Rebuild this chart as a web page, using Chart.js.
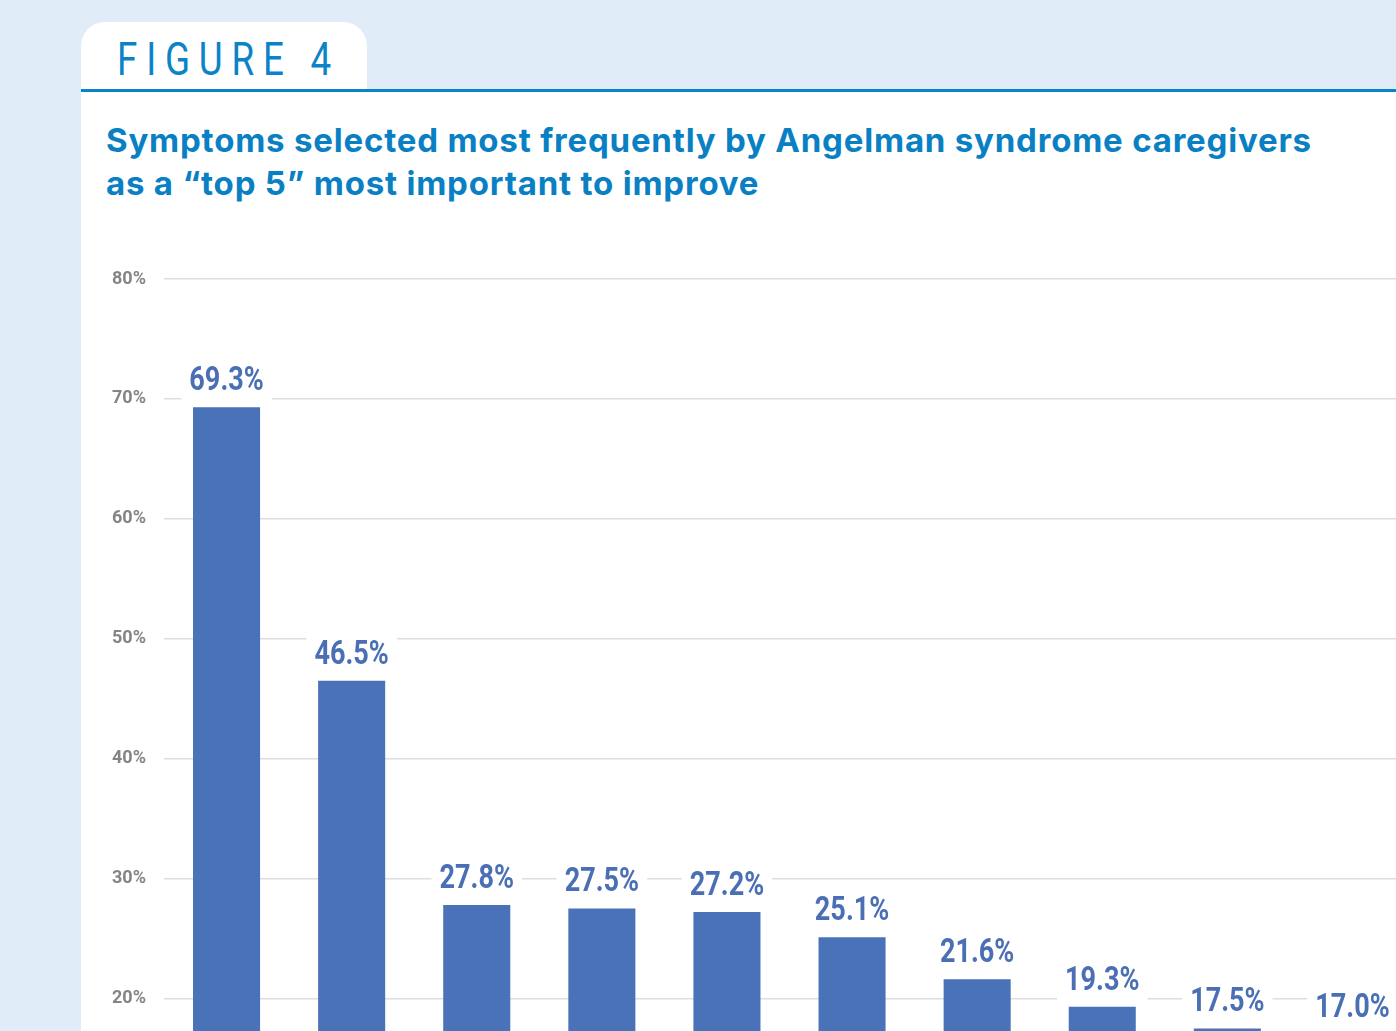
<!DOCTYPE html>
<html>
<head>
<meta charset="utf-8">
<script src="https://cdn.jsdelivr.net/npm/chart.js@4.4.1/dist/chart.umd.min.js"></script>
<style>
  html, body { margin: 0; padding: 0; }
  body {
    width: 1396px; height: 1031px; overflow: hidden;
    background: #e0ecf8; position: relative;
    font-family: Inter, "Noto Sans", sans-serif;
  }
  #panel { position: absolute; left: 81px; top: 92px; right: 0; bottom: 0; background: #fff; }
  #tab {
    position: absolute; left: 81px; top: 22px; width: 286px; height: 70px;
    background: #fff; border-radius: 24px 24px 0 0;
  }
  #tab span {
    position: absolute; left: 36px; top: 10px; white-space: nowrap;
    font-family: Roboto, sans-serif; font-size: 46px; letter-spacing: 11px;
    color: #0a84c8; transform: scaleX(0.8); transform-origin: 0 0;
  }
  #rule { position: absolute; left: 81px; right: 0; top: 89px; height: 3px; background: #0a84c8; }
  #title {
    position: absolute; left: 106px; top: 119px; margin: 0; white-space: nowrap;
    font-size: 33px; font-weight: 700; line-height: 43px; letter-spacing: 0.8px; color: #0a80c4;
  }
  #wrap { position: absolute; left: 1px; top: 250px; width: 1450px; height: 1017px; }
</style>
</head>
<body>
<div id="panel"></div>
<div id="tab"><span>FIGURE 4</span></div>
<div id="rule"></div>
<h1 id="title">Symptoms selected most frequently by Angelman syndrome caregivers<br>as a “top 5” most important to improve</h1>
<div id="wrap"><canvas id="chart"></canvas></div>
<script>
// category names sit below the visible crop
const categories = ['1', '2', '3', '4', '5', '6', '7', '8', '9', '10'];
const values = [69.3, 46.5, 27.8, 27.5, 27.2, 25.1, 21.6, 19.3, 17.5, 17.0];
const yTicks = [0, 10, 20, 30, 40, 50, 60, 70, 80];

// condensed look: Roboto squeezed horizontally
const valueLabels = {
  id: 'valueLabels',
  afterDatasetsDraw(chart) {
    const ctx = chart.ctx;
    const meta = chart.getDatasetMeta(0);
    const sx = 0.82;
    ctx.save();
    ctx.font = 'bold 33px Roboto, sans-serif';
    ctx.textAlign = 'center';
    ctx.textBaseline = 'alphabetic';
    meta.data.forEach((bar, i) => {
      const txt = values[i].toFixed(1) + '%';
      const w = ctx.measureText(txt).width * sx;
      ctx.fillStyle = '#fff';
      ctx.fillRect(bar.x - w / 2 - 8, bar.y - 48, w + 16, 46);
      ctx.save();
      ctx.translate(bar.x, bar.y - 17);
      ctx.scale(sx, 1);
      ctx.fillStyle = '#4a6fb5';
      ctx.fillText(txt, 0, 0);
      ctx.restore();
    });
    ctx.restore();
  }
};

new Chart(document.getElementById('chart'), {
  type: 'bar',
  data: {
    labels: categories,
    datasets: [{
      data: values,
      backgroundColor: '#4a72b8',
      categoryPercentage: 1,
      barPercentage: 0.536
    }]
  },
  options: {
    responsive: true,
    maintainAspectRatio: false,
    animation: false,
    layout: { padding: { top: 29, bottom: 13, left: 0, right: 36 } },
    plugins: { legend: { display: false }, tooltip: { enabled: false } },
    scales: {
      x: { display: false },
      y: {
        min: 0, max: 80,
        afterFit: s => { s.width = 163; },
        afterBuildTicks: s => { s.ticks = yTicks.map(v => ({ value: v })); },
        border: { display: false },
        grid: { color: '#dedede', lineWidth: 1.5, drawTicks: false },
        ticks: {
          padding: 18,
          color: '#858585',
          font: { family: 'Roboto, sans-serif', size: 18, weight: 'bold' },
          callback: v => v + '%'
        }
      }
    }
  },
  plugins: [valueLabels]
});
</script>
</body>
</html>
